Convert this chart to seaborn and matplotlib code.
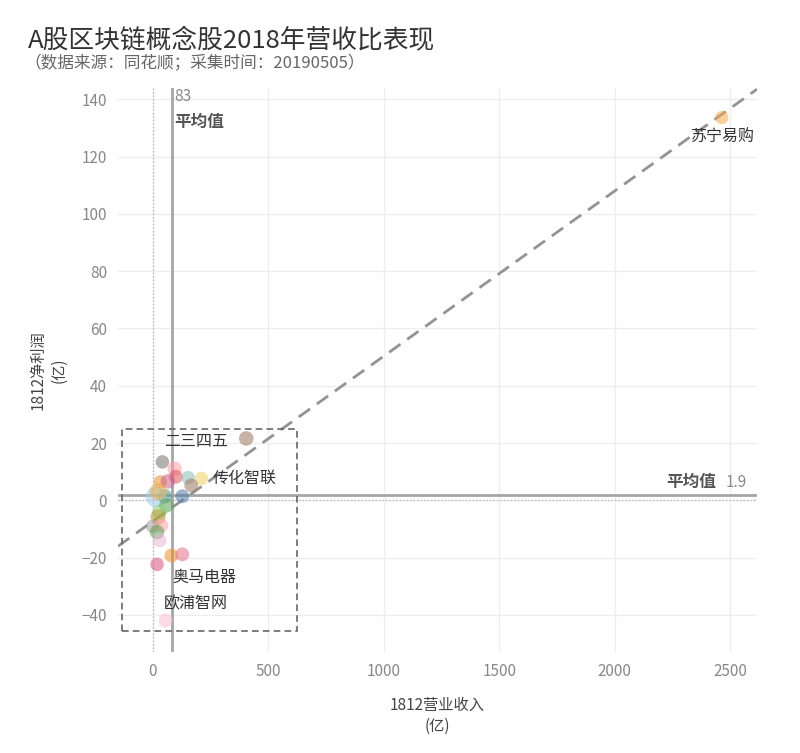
import numpy as np
import pandas as pd
import matplotlib
matplotlib.use("Agg")
import matplotlib.pyplot as plt
import seaborn as sns
from matplotlib.patches import Rectangle

# 1812 revenue / net profit (亿)
revenue = [2463, 405, 42, 95, 100, 153, 211, 167, 33, 66, 128, 52, 16, 24,
           59, 30, 23, -1, 38, 19, 30, 81, 128, 19, 56]
profit = [133.7, 21.6, 13.4, 11.0, 8.2, 7.9, 7.6, 5.2, 6.4, 6.6, 1.4, 1.4, 1.2, 3.0,
          -1.8, -4.0, -5.8, -9.1, -8.8, -11.1, -14.0, -19.3, -18.9, -22.4, -42.0]
sizes = [90, 110, 95, 110, 100, 95, 95, 100, 95, 110, 100, 110, 230, 150,
         110, 110, 120, 90, 100, 110, 100, 100, 100, 95, 100]
colors = ["#f5a94c", "#9c755f", "#79706e", "#ff9da7", "#e15759", "#86bcb6",
          "#f1ce63", "#9d7660", "#f28e2b", "#c7648e", "#4e79a7", "#499894",
          "#a0cbe8", "#e8b04a", "#59a14f", "#8cd17d", "#b6992d", "#a39a9e",
          "#ff9da7", "#59a14f", "#e6b6d6", "#f28e2b", "#e56f8c", "#d8527e",
          "#fabfd2"]

labels = {0: "苏宁易购", 2: "二三四五", 6: "传化智联", 21: "奥马电器", 24: "欧浦智网"}
label_offsets = {0: (0, -14), 2: (24, 15), 6: (31, 0), 21: (24, -16), 24: (22, 12)}

mean_revenue = 83
mean_profit = 1.9

df = pd.DataFrame({"revenue": revenue, "profit": profit, "size": sizes})

sns.set_theme(style="white")
plt.rcParams["font.family"] = ["Noto Sans CJK SC", "DejaVu Sans"]

fig = plt.figure(figsize=(8, 7.53), dpi=100)
ax = fig.add_axes([118 / 800, 1 - 652 / 753, (757 - 118) / 800, (652 - 88) / 753])

ax.set_xlim(-150, 2615)
ax.set_ylim(-53, 144)

# grid
for xv in [0, 500, 1000, 1500, 2000, 2500]:
    ax.axvline(xv, color="#eeeeee", lw=1, zorder=0)
for yv in range(-40, 141, 20):
    ax.axhline(yv, color="#eeeeee", lw=1, zorder=0)
ax.axvline(0, color="#bbbbbb", lw=1, ls=(0, (1, 1.5)), zorder=1)
ax.axhline(0, color="#bbbbbb", lw=1, ls=(0, (1, 1.5)), zorder=1)

# mean lines
ax.axvline(mean_revenue, color="#a6a6a6", lw=2, zorder=2)
ax.axhline(mean_profit, color="#a6a6a6", lw=2, zorder=2)

# trend line
sns.regplot(data=df, x="revenue", y="profit", scatter=False, ci=None,
            truncate=False, ax=ax,
            line_kws=dict(color="#939393", lw=2, ls=(0, (5, 3)), zorder=3))

sns.scatterplot(x=revenue, y=profit, s=sizes, c=colors, alpha=0.55,
                edgecolor="none", ax=ax, zorder=4)

# highlight box
ax.add_patch(Rectangle((-134, -45.5), 757, 70.3, fill=False, ec="#666666",
                       lw=1.2, ls=(0, (4, 2.5)), zorder=5))

for i, name in labels.items():
    dx, dy = label_offsets[i]
    ax.annotate(name, (revenue[i], profit[i]), xytext=(dx, dy),
                textcoords="offset points", ha="center", va="center",
                fontsize=11.5, color="#333333", zorder=6)

ax.text(mean_revenue + 12, 141, f"{mean_revenue}", color="#888888", fontsize=11,
        ha="left", va="center")
ax.text(mean_revenue + 12, 132, "平均值", color="#555555", fontsize=12,
        fontweight="bold", ha="left", va="center")
ax.text(2440, mean_profit + 1.2, "平均值", color="#555555", fontsize=12,
        fontweight="bold", ha="right", va="bottom")
ax.text(2480, mean_profit + 1.2, f"{mean_profit}", color="#888888", fontsize=11,
        ha="left", va="bottom")

sns.despine(ax=ax, left=True, bottom=True)
ax.set_xticks([0, 500, 1000, 1500, 2000, 2500])
ax.set_yticks(range(-40, 141, 20))
ax.tick_params(colors="#888888", labelsize=11, length=0, pad=8)
ax.set_xlabel("1812营业收入\n(亿)", color="#444444", fontsize=11, labelpad=12,
              linespacing=1.3)
ax.set_ylabel("1812净利润\n(亿)", color="#444444", fontsize=11, labelpad=10,
              linespacing=1.3)

fig.text(28 / 800, 1 - 41 / 753, "A股区块链概念股2018年营收比表现", fontsize=18.5,
         color="#333333", ha="left", va="center")
fig.text(24 / 800, 1 - 63 / 753, "（数据来源：同花顺；采集时间：20190505）",
         fontsize=12, color="#666666", ha="left", va="center")

fig.savefig("out.png", dpi=100, facecolor="white")
